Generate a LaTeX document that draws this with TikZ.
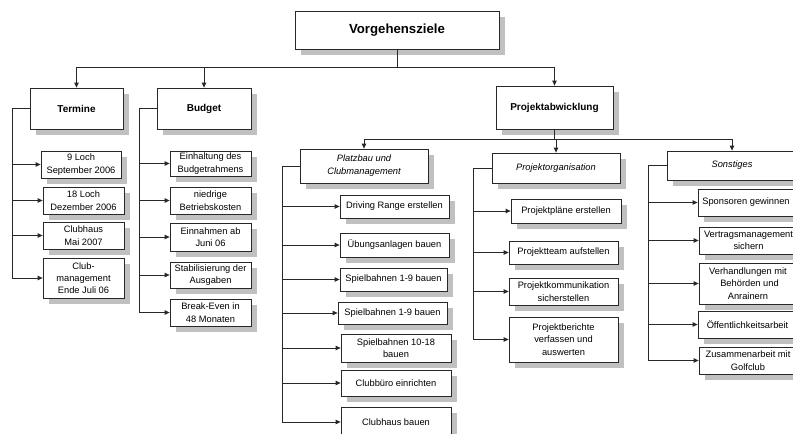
\documentclass[tikz,border=0pt]{standalone}
\usepackage{fontspec}
\setmainfont{Liberation Sans}
\usetikzlibrary{shadows,arrows.meta}
\definecolor{shadowgray}{RGB}{192,192,192}
\definecolor{linegray}{RGB}{40,40,40}
\tikzset{
  box/.style={draw=linegray, line width=0.8pt, fill=white, inner sep=0pt, align=center,
    general shadow={fill=shadowgray, shadow xshift=5.5pt, shadow yshift=-5.5pt},
    font=\fontsize{9.3}{12.5}\selectfont},
  headbox/.style={font=\bfseries\fontsize{10}{12}\selectfont},
  topbox/.style={font=\bfseries\fontsize{13.2}{15}\selectfont},
  itbox/.style={font=\itshape\fontsize{9.3}{13}\selectfont},
  conn/.style={draw=linegray, line width=0.8pt},
  arr/.style={conn, -{Triangle[length=5pt,width=4.5pt]}},
}
\newcommand\bx[7][]{\node[box,#1,minimum width={(#5-#3)*1pt},minimum height={(#6-#4)*1pt}] (#2) at ({(#3+#5)/2},{(#4+#6)/2}) {#7};}
\begin{document}
\begin{tikzpicture}[x=1pt,y=-1pt]
\useasboundingbox (0,0) rectangle (793,434);
\clip (0,0) rectangle (793,434);
\fill[white] (0,0) rectangle (793,434);
% top level
\bx[topbox]{top}{295}{11}{499}{49}{Vorgehensziele}
\bx[headbox]{termine}{30}{88}{123}{129}{Termine}
\bx[headbox]{budget}{157}{88}{251}{129}{Budget}
\bx[headbox]{pa}{496}{86}{613}{129}{Projektabwicklung}
% Termine children
\bx{t1}{41}{151}{121}{178}{9 Loch\\September 2006}
\bx{t2}{43}{187}{124}{214}{18 Loch\\Dezember 2006}
\bx{t3}{43}{222}{124}{249}{Clubhaus\\Mai 2007}
\bx[font=\fontsize{9.3}{11.8}\selectfont]{t4}{43}{258}{124}{298}{Club-\\management\\Ende Juli 06}
% Budget children
\bx{b1}{170}{151}{251}{176}{Einhaltung des\\Budgetrahmens}
\bx{b2}{170}{187}{251}{214}{niedrige\\Betriebskosten}
\bx{b3}{170}{223}{251}{251}{Einnahmen ab\\Juni 06}
\bx{b4}{170}{262}{251}{288}{Stabilisierung der\\Ausgaben}
\bx{b5}{170}{299}{251}{326}{Break-Even in\\48 Monaten}
% second level under Projektabwicklung
\bx[itbox]{pb}{300}{149}{428}{183}{Platzbau und\\Clubmanagement}
\bx[itbox]{po}{492}{153}{620}{183}{Projektorganisation}
\bx[itbox]{so}{667}{151}{797}{180}{Sonstiges}
% Platzbau children
\bx{p1}{340}{195}{449}{218}{Driving Range erstellen}
\bx{p2}{340}{233}{449}{257}{Übungsanlagen bauen}
\bx{p3}{340}{268}{447}{291}{Spielbahnen 1-9 bauen}
\bx{p4}{338}{302}{447}{324}{Spielbahnen 1-9 bauen}
\bx{p5}{341}{334}{451}{362}{Spielbahnen 10-18\\bauen}
\bx{p6}{341}{370}{451}{396}{Clubbüro einrichten}
\bx{p7}{341}{407}{451}{437}{Clubhaus bauen}
% Projektorganisation children
\bx{o1}{511}{199}{621}{223}{Projektpläne erstellen}
\bx{o2}{509}{241}{618}{264}{Projektteam aufstellen}
\bx{o3}{509}{278}{618}{305}{Projektkommunikation\\sicherstellen}
\bx{o4}{509}{317}{618}{362}{Projektberichte\\verfassen und\\auswerten}
% Sonstiges children
\bx{s1}{698}{189}{800}{216}{\hspace*{-3pt}Sponsoren gewinnen\hspace*{3pt}}
\bx{s2}{699}{227}{800}{254}{Vertragsmanagement\hspace*{2pt}\\sichern\hspace*{2pt}}
\bx{s3}{699}{263}{800}{304}{Verhandlungen mit\hspace*{3pt}\\Behörden und\hspace*{3pt}\\Anrainern\hspace*{3pt}}
\bx{s4}{698}{311}{800}{338}{Öffentlichkeitsarbeit\hspace*{3pt}}
\bx{s5}{699}{347}{800}{374}{Zusammenarbeit mit\hspace*{3pt}\\Golfclub\hspace*{3pt}}
% top connectors
\draw[conn] (top.south) -- ++(0,18) coordinate (j0);
\draw[arr] (j0) -| (termine.north);
\draw[arr] (j0) -| (budget.north);
\draw[arr] (j0) -| (pa.north);
\draw[conn] (pa.south) -- ++(0,10) coordinate (j1);
\draw[arr] (j1) -| (pb.north);
\draw[arr] (j1) -| (po.north);
\draw[arr] (j1) -| (so.north);
% trunks
\coordinate (tt) at (12,0);
\coordinate (bt) at (139,0);
\coordinate (pt) at (282,0);
\coordinate (ot) at (473,0);
\coordinate (st) at (648,0);
\draw[conn] (termine.west) -| (tt |- t4.west);
\foreach \c in {t1,t2,t3,t4} \draw[arr] (tt |- \c.west) -- (\c.west);
\draw[conn] (budget.west) -| (bt |- b5.west);
\foreach \c in {b1,b2,b3,b4,b5} \draw[arr] (bt |- \c.west) -- (\c.west);
\draw[conn] (pb.west) -| (pt |- 0,422);
\foreach \c in {p1,p2,p3,p4,p5,p6} \draw[arr] (pt |- \c.west) -- (\c.west);
\draw[arr] (pt |- 0,422) -- (p7.west |- 0,422);
\draw[conn] (po.west) -| (ot |- o4.west);
\foreach \c in {o1,o2,o3,o4} \draw[arr] (ot |- \c.west) -- (\c.west);
\draw[conn] (so.west) -| (st |- s5.west);
\foreach \c in {s1,s2,s3,s4,s5} \draw[arr] (st |- \c.west) -- (\c.west);
\end{tikzpicture}
\end{document}
